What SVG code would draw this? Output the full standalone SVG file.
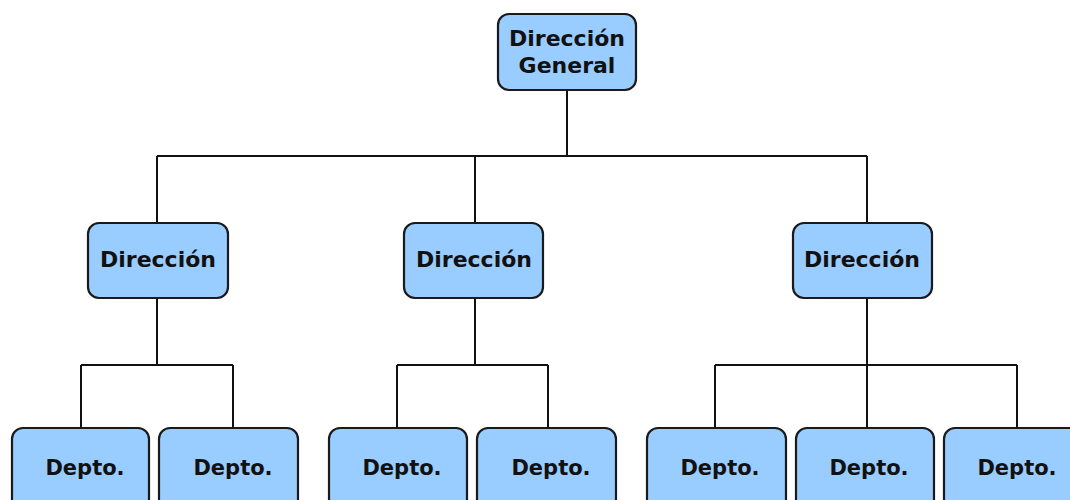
<svg xmlns="http://www.w3.org/2000/svg" width="1070" height="500" viewBox="0 0 1070 500">
<style>
.box{fill:#99ccff;stroke:#1a1a1a;stroke-width:2.2}
.lbl{font-family:"DejaVu Sans",sans-serif;font-weight:bold;font-size:22px;fill:#111;text-anchor:middle}
.dep{font-size:21px}
.con{fill:none;stroke:#111;stroke-width:2}
</style>
<rect width="1070" height="500" fill="#ffffff"/>
<g id="connectors" class="con">
<path d="M567 90V156M157 156H867M157 156V223M475 156V223M867 156V223"/>
<path d="M157 298V365M81 365H233M81 365V428M233 365V428"/>
<path d="M475 298V365M397 365H548M397 365V428M548 365V428"/>
<path d="M867 298V365M715 365H1017M715 365V428M867 365V428M1017 365V428"/>
</g>
<g id="n_general"><rect class="box" x="498" y="14" width="138" height="76" rx="11"/><text class="lbl" x="567" y="46">Dirección</text><text class="lbl" x="567" y="73">General</text></g>
<g id="n_dir1"><rect class="box" x="88" y="223" width="140" height="75" rx="11"/><text class="lbl" x="158" y="267">Dirección</text></g>
<g id="n_dir2"><rect class="box" x="404" y="223" width="139" height="75" rx="11"/><text class="lbl" x="474" y="267">Dirección</text></g>
<g id="n_dir3"><rect class="box" x="793" y="223" width="139" height="75" rx="11"/><text class="lbl" x="862" y="267">Dirección</text></g>
<g id="n_dep1"><rect class="box" x="12" y="428" width="137" height="90" rx="11"/><text class="lbl dep" x="85" y="475">Depto.</text></g>
<g id="n_dep2"><rect class="box" x="159" y="428" width="139" height="90" rx="11"/><text class="lbl dep" x="233" y="475">Depto.</text></g>
<g id="n_dep3"><rect class="box" x="329" y="428" width="138" height="90" rx="11"/><text class="lbl dep" x="402" y="475">Depto.</text></g>
<g id="n_dep4"><rect class="box" x="477" y="428" width="139" height="90" rx="11"/><text class="lbl dep" x="551" y="475">Depto.</text></g>
<g id="n_dep5"><rect class="box" x="647" y="428" width="139" height="90" rx="11"/><text class="lbl dep" x="720" y="475">Depto.</text></g>
<g id="n_dep6"><rect class="box" x="796" y="428" width="138" height="90" rx="11"/><text class="lbl dep" x="869" y="475">Depto.</text></g>
<g id="n_dep7"><rect class="box" x="944" y="428" width="140" height="90" rx="11"/><text class="lbl dep" x="1017" y="475">Depto.</text></g>
</svg>
